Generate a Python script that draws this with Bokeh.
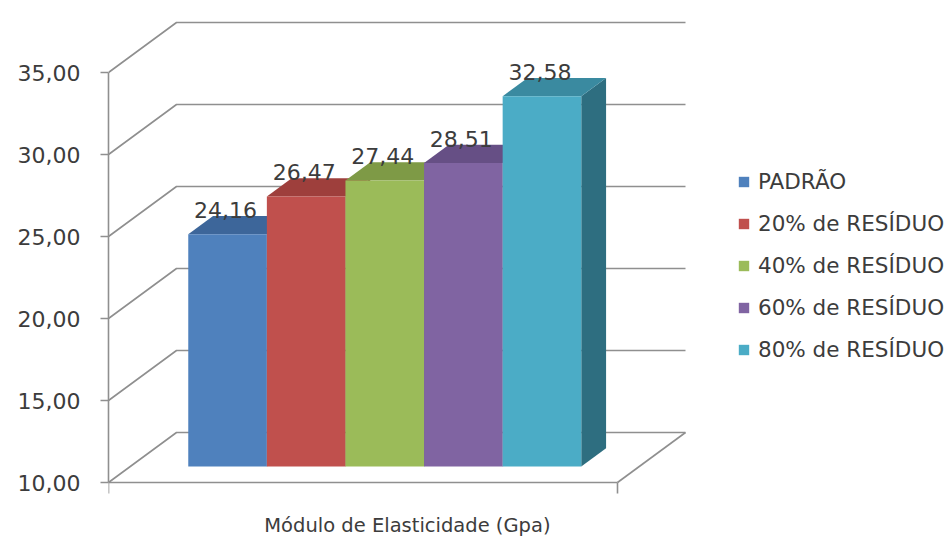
from bokeh.plotting import figure
from bokeh.models import ColumnDataSource, Range1d, FixedTicker, Legend, LegendItem
from bokeh.core.properties import value
from bokeh.embed import file_html
from bokeh.resources import INLINE

# ---------------- data ----------------
categories = ["PADRÃO", "20% de RESÍDUO", "40% de RESÍDUO", "60% de RESÍDUO", "80% de RESÍDUO"]
values = [24.16, 26.47, 27.44, 28.51, 32.58]
value_labels = ["24,16", "26,47", "27,44", "28,51", "32,58"]
y_ticks = [10, 15, 20, 25, 30, 35]
y_tick_labels = ["10,00", "15,00", "20,00", "25,00", "30,00", "35,00"]
axis_title = "Módulo de Elasticidade  (Gpa)"

front_colors = ["#4F81BD", "#C0504D", "#9BBB59", "#8064A2", "#4BACC6"]
top_colors = ["#3D669A", "#9E3F3C", "#7E9A46", "#664F85", "#3A8AA0"]
side_colors = ["#2F5180", "#7F3230", "#637A37", "#503E6A", "#2E6E80"]

# ---------------- geometry (pseudo 3-D) ----------------
FONT = "DejaVu Sans"
TEXT_COLOR = "#3c3c3c"
GRID_COLOR = "#8f8f8f"
W, H = 947, 538
LEFT = 108                  # left border (y axis panel)
FLOOR_PX = 482              # canvas row of the front floor edge (value 10)
PX_PER_UNIT = 16.4          # vertical pixels per value unit
Y_MIN = 10.0
Y_LO = Y_MIN - (H - FLOOR_PX) / PX_PER_UNIT
Y_HI = Y_MIN + FLOOR_PX / PX_PER_UNIT
FRAME_W = W - LEFT
FLOOR_W = 509.0             # x units are pixels
DEPTH_DX = 68.0
DEPTH_DY = 50.0 / PX_PER_UNIT
BAR_W = 78.6
F0 = 0.32                   # depth of bar front face (fraction of full depth)
FB = 0.365                  # bar depth (fraction of full depth)
TICK_LEN = 11.0 / PX_PER_UNIT
LABEL_LIFT = 6.0 / PX_PER_UNIT
TITLE_DROP = 43.0 / PX_PER_UNIT

n = len(values)
x_start = (FLOOR_W - n * BAR_W) / 2.0
bdx, bdy = FB * DEPTH_DX, FB * DEPTH_DY
fdx, fdy = F0 * DEPTH_DX, F0 * DEPTH_DY

front_xs, front_ys, top_xs, top_ys, side_xs, side_ys = [], [], [], [], [], []
label_x, label_y = [], []
for i, v in enumerate(values):
    xl = x_start + i * BAR_W + fdx
    xr = xl + BAR_W
    yb = Y_MIN + fdy
    yt = v + fdy
    front_xs.append([xl, xr, xr, xl]); front_ys.append([yb, yb, yt, yt])
    top_xs.append([xl, xr, xr + bdx, xl + bdx]); top_ys.append([yt, yt, yt + bdy, yt + bdy])
    side_xs.append([xr, xr + bdx, xr + bdx, xr]); side_ys.append([yb, yb + bdy, yt + bdy, yt])
    label_x.append((xl + xr) / 2.0 - 2)
    label_y.append(yt + bdy + LABEL_LIFT)

p = figure(width=W, height=H, output_backend="svg", toolbar_location=None,
           x_range=Range1d(0, FRAME_W), y_range=Range1d(Y_LO, Y_HI),
           min_border_left=LEFT, min_border_right=0, min_border_top=0, min_border_bottom=0)
p.outline_line_color = None
p.xaxis.visible = False
p.xgrid.visible = False
p.ygrid.visible = False
p.background_fill_color = "white"

# walls / floor grid lines
gx, gy = [], []
for t in y_ticks:
    gx.append([0, DEPTH_DX, DEPTH_DX + FLOOR_W])
    gy.append([t, t + DEPTH_DY, t + DEPTH_DY])
gx.append([DEPTH_DX + FLOOR_W, FLOOR_W])
gy.append([Y_MIN + DEPTH_DY, Y_MIN])
# front floor edge and its two end ticks
gx.append([0, FLOOR_W]); gy.append([Y_MIN, Y_MIN])
gx.append([0, 0]); gy.append([Y_MIN, Y_MIN - TICK_LEN])
gx.append([FLOOR_W, FLOOR_W]); gy.append([Y_MIN, Y_MIN - TICK_LEN])
p.multi_line(gx, gy, line_color=GRID_COLOR, line_width=1.6)

# bars
p.patches(side_xs, side_ys, fill_color=side_colors, line_color=None)
p.patches(top_xs, top_ys, fill_color=top_colors, line_color=None)
front_src = ColumnDataSource(dict(xs=front_xs, ys=front_ys, color=front_colors, cat=categories))
front_r = p.patches("xs", "ys", source=front_src, fill_color="color", line_color=None)

# value labels
p.text(x=label_x, y=label_y, text=value_labels, text_align="center", text_baseline="alphabetic",
       text_font=value(FONT), text_font_size="22px", text_color=TEXT_COLOR)

# category axis title
p.text(x=[(FRAME_W - (W - 712)) / 2.0], y=[Y_MIN - TITLE_DROP], text=[axis_title],
       text_align="center", text_baseline="alphabetic",
       text_font=value(FONT), text_font_size="19.5px", text_color=TEXT_COLOR)

# y axis
ya = p.yaxis[0]
ya.ticker = FixedTicker(ticks=y_ticks)
ya.major_label_overrides = {t: lab for t, lab in zip(y_ticks, y_tick_labels)}
ya.bounds = (y_ticks[0], y_ticks[-1])
ya.axis_line_color = GRID_COLOR
ya.axis_line_width = 1.6
ya.major_tick_line_color = GRID_COLOR
ya.major_tick_line_width = 1.6
ya.major_tick_out = 8
ya.major_tick_in = 0
ya.minor_tick_line_color = None
ya.major_label_standoff = 20
ya.major_label_text_font = FONT
ya.major_label_text_font_size = "22px"
ya.major_label_text_color = TEXT_COLOR

legend = Legend(items=[LegendItem(label=c, renderers=[front_r], index=i) for i, c in enumerate(categories)],
                location=(629, 176), orientation="vertical",
                label_text_font=FONT, label_text_font_size="21.5px", label_text_color=TEXT_COLOR,
                glyph_width=13, glyph_height=13, label_standoff=8, spacing=17,
                padding=0, margin=0, border_line_color=None, background_fill_alpha=0)
p.add_layout(legend, "center")

open("out.html", "w").write(file_html(p, INLINE))
